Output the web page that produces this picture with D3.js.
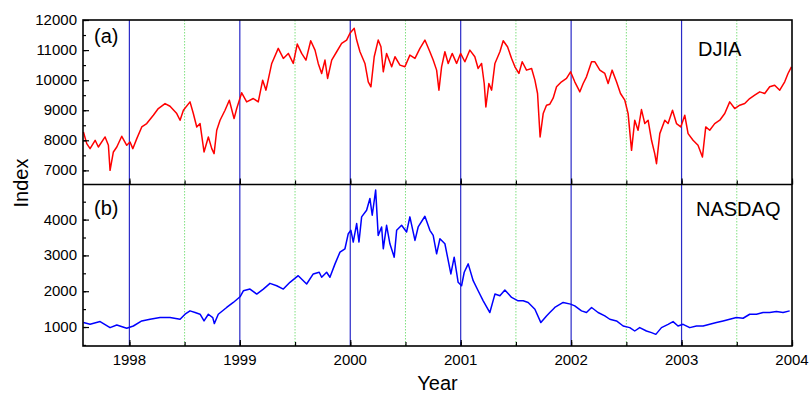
<!DOCTYPE html>
<html>
<head>
<meta charset="utf-8">
<script src="https://cdn.jsdelivr.net/npm/d3@7"></script>
<style>
  body { margin: 0; background: #fff; }
  text { font-family: "Liberation Sans", Arial, sans-serif; fill: #000; }
</style>
</head>
<body>
<svg id="chart" width="811" height="393"></svg>
<script>
// values (decimal year, index)
const djiaYears = [1997.584,1997.614,1997.644,1997.690,1997.719,1997.780,1997.810,1997.825,1997.855,1997.886,1997.931,1997.976,1998.006,1998.031,1998.067,1998.112,1998.157,1998.217,1998.262,1998.323,1998.368,1998.429,1998.459,1998.489,1998.549,1998.579,1998.610,1998.640,1998.676,1998.715,1998.746,1998.767,1998.791,1998.821,1998.866,1998.905,1998.948,1998.972,1999.017,1999.062,1999.122,1999.167,1999.207,1999.237,1999.289,1999.348,1999.394,1999.439,1999.484,1999.520,1999.560,1999.599,1999.642,1999.681,1999.710,1999.741,1999.771,1999.795,1999.832,1999.877,1999.922,1999.967,1999.997,2000.036,2000.058,2000.088,2000.133,2000.163,2000.187,2000.217,2000.253,2000.278,2000.299,2000.329,2000.375,2000.405,2000.450,2000.495,2000.540,2000.586,2000.631,2000.676,2000.721,2000.751,2000.782,2000.803,2000.827,2000.857,2000.887,2000.923,2000.963,2000.999,2001.038,2001.083,2001.128,2001.158,2001.189,2001.213,2001.228,2001.255,2001.280,2001.310,2001.355,2001.385,2001.424,2001.461,2001.491,2001.527,2001.557,2001.596,2001.642,2001.672,2001.696,2001.719,2001.747,2001.777,2001.807,2001.837,2001.868,2001.913,2001.958,2001.995,2002.033,2002.079,2002.109,2002.139,2002.185,2002.215,2002.260,2002.305,2002.335,2002.371,2002.411,2002.447,2002.486,2002.516,2002.547,2002.576,2002.606,2002.637,2002.667,2002.697,2002.728,2002.757,2002.773,2002.803,2002.848,2002.878,2002.918,2002.954,2002.993,2003.029,2003.059,2003.104,2003.149,2003.189,2003.219,2003.255,2003.300,2003.346,2003.391,2003.436,2003.481,2003.527,2003.572,2003.617,2003.662,2003.708,2003.753,2003.798,2003.843,2003.889,2003.934,2003.964,2003.995];
const djiaValues = [8277,7889,7722,8000,7778,8111,7833,7000,7611,7778,8133,7833,7944,7722,8056,8444,8556,8833,9056,9222,9133,8889,8667,9000,9278,8889,8444,8556,7611,8111,7722,7556,8333,8667,9000,9333,8722,9056,9578,9278,9389,9278,10000,9667,10556,11056,10722,10889,10556,11200,10889,10667,11311,11000,10556,10222,10667,10056,10667,10944,11222,11333,11556,11722,11333,10944,10556,9944,9778,10778,11333,11111,10278,10889,10444,10778,10500,10444,10833,10722,11056,11333,10944,10667,10333,9667,10444,10944,10556,10889,10556,10889,10611,11000,10778,10389,10556,9889,9111,9889,9667,10556,10944,11311,11111,10722,10444,10222,10611,10333,10389,10000,9556,8111,8889,9167,9200,9400,9778,9944,10056,10278,9944,9611,9889,10111,10611,10611,10333,10222,9889,10333,9944,9556,9333,8889,7667,8667,8333,9022,8556,8667,8000,7556,7222,8222,8667,8556,9000,8556,8444,8833,8222,8000,7833,7444,8444,8333,8556,8667,8889,9278,9056,9167,9222,9389,9500,9611,9556,9778,9833,9667,9944,10222,10444];

const nasdaqYears = [1997.584,1997.644,1997.735,1997.825,1997.886,1997.976,1998.036,1998.112,1998.187,1998.278,1998.368,1998.459,1998.504,1998.549,1998.595,1998.640,1998.676,1998.715,1998.755,1998.769,1998.805,1998.881,1998.941,1999.002,1999.032,1999.092,1999.153,1999.213,1999.273,1999.334,1999.394,1999.454,1999.529,1999.605,1999.665,1999.719,1999.741,1999.786,1999.816,1999.862,1999.907,1999.952,1999.982,2000.006,2000.027,2000.058,2000.079,2000.103,2000.148,2000.178,2000.199,2000.230,2000.253,2000.284,2000.299,2000.329,2000.359,2000.398,2000.420,2000.465,2000.510,2000.540,2000.586,2000.615,2000.676,2000.721,2000.751,2000.782,2000.812,2000.857,2000.881,2000.911,2000.941,2000.977,2001.008,2001.032,2001.068,2001.113,2001.158,2001.204,2001.264,2001.310,2001.355,2001.400,2001.461,2001.520,2001.566,2001.611,2001.672,2001.726,2001.777,2001.807,2001.837,2001.852,2001.928,2001.995,2002.033,2002.094,2002.139,2002.185,2002.244,2002.305,2002.350,2002.411,2002.471,2002.531,2002.576,2002.621,2002.682,2002.728,2002.767,2002.818,2002.878,2002.923,2002.968,2003.014,2003.074,2003.135,2003.195,2003.255,2003.316,2003.376,2003.436,2003.497,2003.557,2003.617,2003.678,2003.738,2003.798,2003.859,2003.919,2003.979];
const nasdaqValues = [1124,1076,1152,983,1057,964,1029,1169,1217,1264,1264,1217,1357,1451,1405,1357,1169,1357,1264,1096,1357,1546,1686,1844,2012,2060,1920,2060,2220,2153,2060,2248,2434,2201,2482,2530,2389,2530,2389,2763,3092,3185,3606,3700,3373,3888,3373,4076,4262,4590,4121,4824,3559,3794,3185,3840,3325,2951,3700,3840,3654,4076,3418,3794,4093,3700,3559,3044,3466,3325,2951,2482,2951,2248,2153,2530,2763,2294,2012,1732,1405,1920,1873,2032,1827,1732,1732,1686,1498,1124,1310,1405,1498,1546,1686,1639,1592,1451,1405,1546,1405,1310,1217,1169,1029,983,889,983,889,843,795,983,1076,1152,1029,1076,983,1029,1029,1076,1124,1169,1217,1264,1245,1357,1357,1405,1405,1433,1405,1451];

const yearTicks = [1998, 1999, 2000, 2001, 2002, 2003, 2004];
const halfYears = [1998.5, 1999.5, 2000.5, 2001.5, 2002.5, 2003.5];
const djiaTicks = [7000, 8000, 9000, 10000, 11000, 12000];
const nasdaqTicks = [1000, 2000, 3000, 4000];

const plotLeft = 83, plotRight = 792, plotTop = 20, plotMid = 184.5, plotBottom = 346;

const svg = d3.select('#chart');

const x = d3.scaleLinear().domain([1997.58, 2004]).range([plotLeft, plotRight]);
const yTop = d3.scaleLinear().domain([6530, 12000]).range([plotMid, plotTop]);
const yBot = d3.scaleLinear().domain([470, 4980]).range([plotBottom, plotMid]);

// vertical guides through both panels
svg.append('g')
  .selectAll('line')
  .data(halfYears)
  .join('line')
  .attr('x1', d => x(d)).attr('x2', d => x(d))
  .attr('y1', plotTop).attr('y2', plotBottom)
  .attr('stroke', '#7fe07f')
  .attr('stroke-width', 1)
  .attr('stroke-dasharray', '1.5,1.5');

svg.append('g')
  .selectAll('line')
  .data(yearTicks.filter(d => d < 2004))
  .join('line')
  .attr('x1', d => x(d)).attr('x2', d => x(d))
  .attr('y1', plotTop).attr('y2', plotBottom)
  .attr('stroke', '#2a2ac8')
  .attr('stroke-width', 1.2);

// series
const djiaLine = d3.line().x((d, i) => x(djiaYears[i])).y(d => yTop(d));
const nasdaqLine = d3.line().x((d, i) => x(nasdaqYears[i])).y(d => yBot(d));

svg.append('path')
  .datum(djiaValues)
  .attr('fill', 'none')
  .attr('stroke', '#ff0000')
  .attr('stroke-width', 1.5)
  .attr('stroke-linejoin', 'round')
  .attr('d', djiaLine);

svg.append('path')
  .datum(nasdaqValues)
  .attr('fill', 'none')
  .attr('stroke', '#0000ff')
  .attr('stroke-width', 1.5)
  .attr('stroke-linejoin', 'round')
  .attr('d', nasdaqLine);

// axes, ticks pointing inward
const minorX = d3.range(1998, 2004.01, 0.5);

function xAxis(y0, withLabels) {
  svg.append('g')
    .attr('transform', `translate(0,${y0})`)
    .call(d3.axisTop(x).tickValues(minorX).tickSize(4).tickFormat(''))
    .call(g => g.select('.domain').remove());
  svg.append('g')
    .attr('transform', `translate(0,${y0})`)
    .call(d3.axisTop(x).tickValues(yearTicks).tickSize(6).tickFormat(''))
    .call(g => g.select('.domain').remove());
  if (withLabels) {
    svg.append('g')
      .selectAll('text')
      .data(yearTicks)
      .join('text')
      .attr('x', d => x(d))
      .attr('y', y0 + 19)
      .attr('text-anchor', 'middle')
      .style('font-size', '15px')
      .text(d => d);
  }
}
xAxis(plotMid, false);
xAxis(plotBottom, true);

function yAxis(scale, major, minor) {
  svg.append('g')
    .attr('transform', `translate(${plotLeft},0)`)
    .call(d3.axisRight(scale).tickValues(minor).tickSize(3).tickFormat(''))
    .call(g => g.select('.domain').remove());
  svg.append('g')
    .attr('transform', `translate(${plotLeft},0)`)
    .call(d3.axisRight(scale).tickValues(major).tickSize(6).tickFormat(''))
    .call(g => g.select('.domain').remove());
  svg.append('g')
    .selectAll('text')
    .data(major)
    .join('text')
    .attr('x', plotLeft - 6)
    .attr('y', d => scale(d) + 5)
    .attr('text-anchor', 'end')
    .style('font-size', '15px')
    .text(d => d);
}
yAxis(yTop, djiaTicks, d3.range(7000, 12001, 500));
yAxis(yBot, nasdaqTicks, d3.range(500, 4501, 500));

svg.selectAll('.tick line').attr('stroke', '#000').attr('stroke-width', 1.2);

// frame
svg.append('rect')
  .attr('x', plotLeft).attr('y', plotTop)
  .attr('width', plotRight - plotLeft).attr('height', plotBottom - plotTop)
  .attr('fill', 'none').attr('stroke', '#000').attr('stroke-width', 1.6);
svg.append('line')
  .attr('x1', plotLeft).attr('x2', plotRight)
  .attr('y1', plotMid).attr('y2', plotMid)
  .attr('stroke', '#000').attr('stroke-width', 1.6);

// labels
svg.append('text').attr('x', 94).attr('y', 43).style('font-size', '20px').text('(a)');
svg.append('text').attr('x', 94).attr('y', 215).style('font-size', '20px').text('(b)');
svg.append('text').attr('x', 698).attr('y', 56).style('font-size', '20px').text('DJIA');
svg.append('text').attr('x', 696).attr('y', 216).style('font-size', '20px').text('NASDAQ');

svg.append('text')
  .attr('transform', `translate(28,${(plotTop + plotBottom) / 2}) rotate(-90)`)
  .attr('text-anchor', 'middle')
  .style('font-size', '20px')
  .text('Index');
svg.append('text')
  .attr('x', (plotLeft + plotRight) / 2)
  .attr('y', 390)
  .attr('text-anchor', 'middle')
  .style('font-size', '20px')
  .text('Year');
</script>
</body>
</html>
